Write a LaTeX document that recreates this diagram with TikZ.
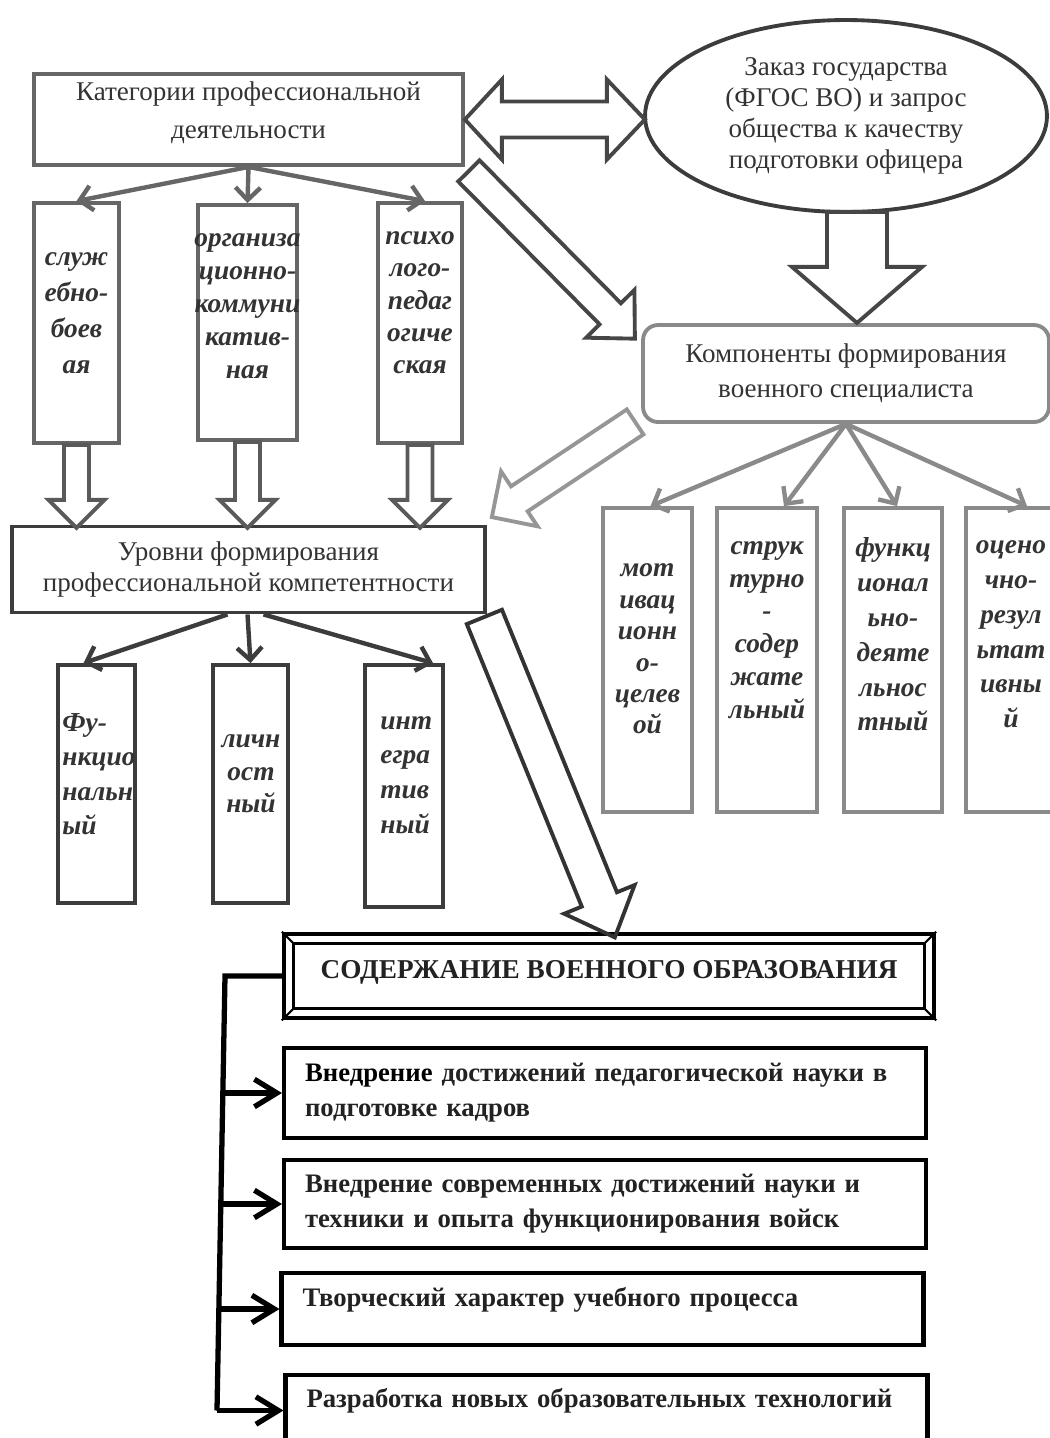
\documentclass[tikz,border=0pt]{standalone}
\usepackage{fontspec}
\setmainfont{Liberation Serif}
\usetikzlibrary{
    arrows.meta,
    calc,
    positioning,
    shapes.geometric
}
\definecolor{txtGray}{RGB}{51,51,51}
\definecolor{txtDark}{RGB}{34,34,34}
\definecolor{katGray}{RGB}{102,102,102}
\definecolor{colGray}{RGB}{90,90,90}
\definecolor{urovGray}{RGB}{60,60,60}
\definecolor{darkGray}{RGB}{70,70,70}
\definecolor{kompGray}{RGB}{138,138,138}
\definecolor{lightGray}{RGB}{150,150,150}

% hollow block arrow: style colour, tail, angle, length, shaft half width, head half width, head length
\newcommand{\blockarrow}[7]{%
    \begin{scope}[shift={(#2)}, rotate=#3]
        \draw[hollow=#1] (0,#5) -- ({#4-#7},#5) -- ({#4-#7},#6) -- (#4,0)
            -- ({#4-#7},-#6) -- ({#4-#7},-#5) -- (0,-#5) -- cycle;
    \end{scope}}

\begin{document}
\begin{tikzpicture}[
        x=0.02cm, y=-0.02cm,
        box/.style={rectangle, draw=#1, line width=2.2pt, inner sep=0pt, align=center, text=txtGray},
        lines/.style={font=\fontsize{15.4}{#1}\selectfont},
        colbox/.style={rectangle, draw=#1, line width=2.2pt, inner sep=0pt},
        vtext/.style={font=\fontsize{15.6}{#1}\selectfont\bfseries\itshape, text=txtGray, align=center, inner sep=0pt},
        thinarrow/.style={draw=#1, line width=2.5pt, -{Straight Barb[length=2.5mm, width=5mm]}},
        hollow/.style={draw=#1, line width=2.2pt, line join=miter},
        bbox/.style={rectangle, draw=black, line width=2.4pt, inner sep=0pt, minimum width=12.84cm, text width=12cm, align=left, text=txtDark, font=\fontsize{15.2}{20}\selectfont\bfseries},
        barrow/.style={draw=black, line width=3pt, -{Straight Barb[length=4.5mm, width=5.5mm]}},
    ]
    \useasboundingbox (0,0) rectangle (1050,1438);
    \clip (0,0) rectangle (1050,1438);

    % top row
    \node[box=katGray, lines=21.5pt, text depth=11pt, minimum width=8.58cm, minimum height=1.82cm] (kat) at (248.5,119.5) {Категории профессиональной\\деятельности};
    \node[box=urovGray, lines=17.7pt, ellipse, minimum width=8.04cm, minimum height=3.84cm] (zakaz) at (846,116) {Заказ государства\\(ФГОС ВО) и запрос\\общества к качеству\\подготовки офицера};
    \node[box=kompGray, lines=19.8pt, rounded corners=0.3cm, minimum width=8.12cm, minimum height=1.94cm] (komp) at (846,373.5) {Компоненты формирования\\военного специалиста};

    % categories
    \node[colbox=katGray, minimum width=1.7cm, minimum height=4.8cm] (c1) at (76.5,323) {};
    \node[colbox=katGray, minimum width=1.98cm, minimum height=4.7cm] (c2) at (247.5,322.5) {};
    \node[colbox=katGray, minimum width=1.68cm, minimum height=4.8cm] (c3) at (420,323) {};
    \node[vtext=20.4pt] (c1t) at (76.5,313) {служ\\ебно-\\боев\\ая};
    \node[vtext=18.7pt] (c2t) at (247.5,306) {организа\\ционно-\\коммуни\\катив-\\ная};
    \node[vtext=18.4pt] (c3t) at (420,303) {психо\\лого-\\педаг\\огиче\\ская};

    % levels
    \node[box=urovGray, lines=18pt, minimum width=9.46cm, minimum height=1.72cm] (urov) at (248.5,569.5) {Уровни формирования\\профессиональной компетентности};
    \node[colbox=urovGray, minimum width=1.54cm, minimum height=4.76cm] (f1) at (96.5,784) {};
    \node[colbox=urovGray, minimum width=1.5cm, minimum height=4.76cm] (f2) at (250.5,784) {};
    \node[colbox=urovGray, minimum width=1.56cm, minimum height=4.84cm] (f3) at (404,786) {};
    \node[vtext=19.6pt, align=left, anchor=west] (f1t) at (62,774) {Фу-\\нкцио\\нальн\\ый};
    \node[vtext=18.4pt] (f2t) at (251,774) {личн\\ост\\ный};
    \node[vtext=19.8pt, align=left, anchor=west] (f3t) at (380,775) {инт\\егра\\тив\\ный};

    % components
    \node[colbox=kompGray, minimum width=1.78cm, minimum height=6.08cm] (k1) at (647.5,660) {};
    \node[colbox=kompGray, minimum width=2cm, minimum height=6.08cm] (k2) at (767,660) {};
    \node[colbox=kompGray, minimum width=1.96cm, minimum height=6.08cm] (k3) at (893,660) {};
    \node[colbox=kompGray, minimum width=1.88cm, minimum height=6.08cm] (k4) at (1013,660) {};
    \node[vtext=17.9pt] (k1t) at (647.5,649) {мот\\ивац\\ионн\\о-\\целев\\ой};
    \node[vtext=18.7pt] (k2t) at (767,630) {струк\\турно\\-\\содер\\жате\\льный};
    \node[vtext=19.8pt] (k3t) at (893,634.5) {функц\\ионал\\ьно-\\деяте\\льнос\\тный};
    \node[vtext=19.8pt] (k4t) at (1011,634.5) {оцено\\чно-\\резул\\ьтат\\ивны\\й};

    % content of education
    \node[rectangle, draw=black, line width=2.6pt, inner sep=0pt, minimum width=13cm, minimum height=1.68cm, text depth=8pt, text=txtDark, font=\fontsize{15.5}{18}\selectfont\bfseries] (sod) at (609,976) {СОДЕРЖАНИЕ ВОЕННОГО ОБРАЗОВАНИЯ};
    \draw[line width=1.6pt] ($(sod.north west)+(12,12)$) rectangle ($(sod.south east)+(-12,-12)$);
    \foreach \a/\s in {north west/{12,12}, north east/{-12,12}, south west/{12,-12}, south east/{-12,-12}}
        {\draw[line width=1.2pt] (sod.\a) -- ($(sod.\a)+(\s)$);}

    \node[bbox, minimum height=1.8cm] (b1) at (605,1093) {\mbox{{\color{black}Внедрение} достижений педагогической науки в}\\\mbox{подготовке кадров}};
    \node[bbox, minimum height=1.76cm] (b2) at (605,1204) {\mbox{Внедрение современных достижений науки и}\\\mbox{техники и опыта функционирования войск}};
    \node[bbox, minimum height=1.44cm, text depth=13.6pt] (b3) at (602.5,1309) {\mbox{Творческий характер учебного процесса}};
    \node[bbox, minimum height=1.42cm, text depth=14.8pt] (b4) at (606.5,1410.5) {\mbox{Разработка новых образовательных технологий}};

    % thin arrows
    \draw[thinarrow=katGray] (kat.south) -- (c1.north);
    \draw[thinarrow=katGray] (kat.south) -- (c2.north);
    \draw[thinarrow=katGray] (kat.south) -- ($(c3.north)+(5,0)$);
    \draw[thinarrow=urovGray] ($(urov.south)+(-21,0)$) -- ($(f1.north)+(-13,0)$);
    \draw[thinarrow=urovGray] ($(urov.south)+(-1,0)$) -- (f2.north);
    \draw[thinarrow=urovGray] ($(urov.south)+(15,0)$) -- ($(f3.north)+(29,0)$);
    \draw[thinarrow=kompGray] (komp.south) -- ($(k1.north)+(3,0)$);
    \draw[thinarrow=kompGray] (komp.south) -- ($(k2.north)+(17,0)$);
    \draw[thinarrow=kompGray] (komp.south) -- ($(k3.north)+(4,0)$);
    \draw[thinarrow=kompGray] (komp.south) -- ($(k4.north)+(14,0)$);

    % hollow arrows
    \begin{scope}[shift={(kat.east)}]
        \draw[hollow=darkGray] (0,0) -- (37,-40) -- (37,-18) -- (142,-18) -- (142,-40) -- (180,0)
            -- (142,40) -- (142,18) -- (37,18) -- (37,40) -- cycle;
    \end{scope}
    \coordinate (dA) at ($(kat.south east)+(4,4)$);
    \coordinate (dB) at ($(zakaz.south)+(11,-2)$);
    \coordinate (dC) at ($(komp.south west)+(-6,-2)$);
    \coordinate (dD) at ($(urov.south east)+(-2.5,2.5)$);
    \blockarrow{darkGray}{dA}{-45.3}{236}{15}{34}{35}
    \blockarrow{darkGray}{dB}{-90}{111}{30}{65}{56}
    \blockarrow{lightGray}{dC}{-146.4}{172}{15}{33}{33}
    \blockarrow{txtGray}{dD}{-67.85}{346}{19}{38}{41}
    \foreach \c/\l in {c1/83, c2/86, c3/83}
        {\blockarrow{colGray}{\c.south}{-90}{\l}{12.5}{28}{28}}

    % bracket
    \coordinate (sp1) at (225,976);
    \coordinate (sp2) at (217,1410.5);
    \draw[line width=3pt, line join=miter] (sod.west) -- (sp1) -- (sp2);
    \foreach \b/\x in {b1/222.8, b2/220.8, b3/218.9, b4/217}
        {\draw[barrow] (\x,0 |- \b.west) -- (\b.west);}
\end{tikzpicture}
\end{document}
